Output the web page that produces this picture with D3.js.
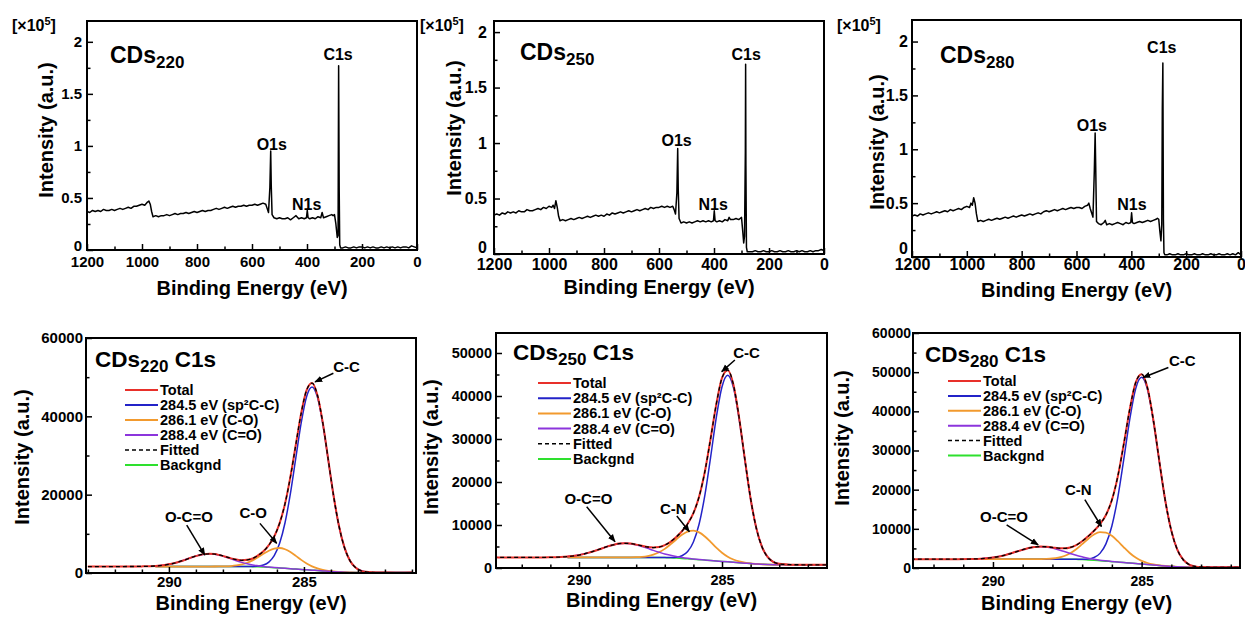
<!DOCTYPE html>
<html>
<head>
<meta charset="utf-8">
<title>XPS spectra of CDs</title>
<script src="https://cdn.jsdelivr.net/npm/d3@7"></script>
<style>
  body { margin: 0; background: #fff; }
  svg text { font-family: "Liberation Sans", Arial, sans-serif; font-weight: bold; fill: #000; }
</style>
</head>
<body>
<div id="container"></div>
<script>
// ---------- survey spectra: [binding energy (eV), intensity (x10^5)] ----------
const survey220 = [
  [1200,0.37],[1190,0.36],[1180,0.38],[1170,0.37],[1160,0.38],[1150,0.37],[1140,0.39],[1130,0.38],[1120,0.38],[1110,0.39],
  [1100,0.38],[1090,0.39],[1080,0.40],[1070,0.39],[1060,0.40],[1050,0.41],[1040,0.40],[1030,0.42],[1020,0.42],[1010,0.43],
  [1000,0.44],[990,0.43],[980,0.46],[975,0.47],[970,0.44],[965,0.37],[960,0.32],[950,0.33],[940,0.32],[930,0.33],
  [920,0.33],[910,0.34],[900,0.33],[890,0.34],[880,0.35],[870,0.34],[860,0.35],[850,0.35],[840,0.36],[830,0.35],
  [820,0.36],[810,0.37],[800,0.36],[790,0.37],[780,0.38],[770,0.37],[760,0.38],[750,0.38],[740,0.39],[730,0.40],
  [720,0.39],[710,0.40],[700,0.41],[690,0.40],[680,0.41],[670,0.42],[660,0.41],[650,0.42],[640,0.42],[630,0.43],
  [620,0.42],[610,0.43],[600,0.43],[590,0.44],[580,0.43],[570,0.44],[560,0.45],[550,0.44],[545,0.40],[540,0.36],
  [535,0.60],[532,0.95],[530,0.62],[527,0.34],[520,0.31],[510,0.30],[500,0.31],[490,0.30],[480,0.30],[470,0.31],
  [460,0.29],[450,0.31],[440,0.33],[430,0.30],[420,0.31],[410,0.30],[402,0.31],[399,0.38],[396,0.31],[390,0.30],
  [380,0.31],[370,0.30],[360,0.32],[350,0.31],[345,0.36],[340,0.31],[330,0.32],[320,0.33],[310,0.34],[305,0.33],
  [300,0.34],[295,0.25],[290,0.12],[287,0.14],[285,1.77],[283,0.60],[281,0.05],[278,0.02],[270,0.02],[260,0.03],
  [250,0.02],[240,0.02],[230,0.03],[220,0.02],[210,0.03],[200,0.03],[190,0.02],[180,0.03],[170,0.02],[160,0.03],
  [150,0.02],[140,0.02],[130,0.03],[120,0.02],[110,0.03],[100,0.02],[90,0.03],[80,0.02],[70,0.03],[60,0.02],
  [50,0.03],[40,0.03],[30,0.02],[20,0.04],[10,0.03],[0,0.02]
];
const survey250 = [
  [1200,0.35],[1190,0.36],[1180,0.35],[1170,0.37],[1160,0.36],[1150,0.38],[1140,0.37],[1130,0.38],[1120,0.37],[1110,0.39],
  [1100,0.38],[1090,0.38],[1080,0.40],[1070,0.39],[1060,0.39],[1050,0.40],[1040,0.41],[1030,0.40],[1020,0.42],[1010,0.41],
  [1000,0.43],[990,0.42],[985,0.44],[980,0.41],[975,0.48],[970,0.42],[965,0.34],[960,0.30],[950,0.31],[940,0.30],
  [930,0.31],[920,0.32],[910,0.31],[900,0.32],[890,0.33],[880,0.32],[870,0.33],[860,0.34],[850,0.33],[840,0.34],
  [830,0.35],[820,0.34],[810,0.35],[800,0.34],[790,0.36],[780,0.35],[770,0.37],[760,0.36],[750,0.37],[740,0.38],
  [730,0.37],[720,0.38],[710,0.39],[700,0.38],[690,0.39],[680,0.40],[670,0.39],[660,0.40],[650,0.41],[640,0.40],
  [630,0.42],[620,0.41],[610,0.42],[600,0.42],[590,0.43],[580,0.42],[570,0.43],[560,0.42],[550,0.43],[545,0.40],
  [540,0.36],[535,0.55],[532,0.95],[530,0.58],[527,0.32],[520,0.28],[510,0.29],[500,0.28],[490,0.29],[480,0.28],
  [470,0.29],[460,0.30],[450,0.29],[440,0.30],[430,0.29],[420,0.30],[410,0.29],[402,0.30],[399,0.39],[396,0.30],
  [390,0.29],[380,0.30],[370,0.29],[360,0.31],[350,0.30],[345,0.33],[340,0.31],[330,0.31],[320,0.32],[310,0.31],
  [305,0.32],[300,0.33],[296,0.22],[292,0.10],[289,0.16],[286,0.92],[285,1.71],[284,0.80],[282,0.06],[279,0.02],
  [270,0.02],[260,0.02],[250,0.03],[240,0.02],[230,0.02],[220,0.03],[210,0.02],[200,0.02],[190,0.03],[180,0.02],
  [170,0.02],[160,0.03],[150,0.02],[140,0.02],[130,0.03],[120,0.02],[110,0.02],[100,0.03],[90,0.02],[80,0.03],
  [70,0.02],[60,0.02],[50,0.03],[40,0.02],[30,0.03],[20,0.03],[10,0.04],[0,0.03]
];
const survey280 = [
  [1200,0.38],[1190,0.39],[1180,0.38],[1170,0.40],[1160,0.39],[1150,0.40],[1140,0.41],[1130,0.40],[1120,0.41],[1110,0.42],
  [1100,0.41],[1090,0.42],[1080,0.43],[1070,0.42],[1060,0.44],[1050,0.43],[1040,0.44],[1030,0.45],[1020,0.44],[1010,0.46],
  [1000,0.47],[990,0.46],[985,0.50],[980,0.48],[975,0.55],[970,0.50],[965,0.40],[960,0.33],[950,0.34],[940,0.33],
  [930,0.34],[920,0.35],[910,0.34],[900,0.35],[890,0.36],[880,0.35],[870,0.36],[860,0.37],[850,0.36],[840,0.37],
  [830,0.38],[820,0.37],[810,0.38],[800,0.39],[790,0.38],[780,0.39],[770,0.40],[760,0.39],[750,0.40],[740,0.41],
  [730,0.40],[720,0.42],[710,0.43],[700,0.42],[690,0.43],[680,0.44],[670,0.43],[660,0.44],[650,0.45],[640,0.44],
  [630,0.45],[620,0.46],[610,0.45],[600,0.46],[590,0.46],[580,0.45],[570,0.47],[560,0.48],[555,0.50],[550,0.45],
  [545,0.41],[540,0.37],[535,0.80],[532,1.15],[530,0.85],[527,0.33],[520,0.31],[510,0.30],[500,0.32],[495,0.34],
  [490,0.30],[480,0.31],[470,0.30],[460,0.31],[450,0.32],[440,0.31],[430,0.30],[420,0.32],[410,0.31],[402,0.32],
  [399,0.41],[396,0.32],[390,0.31],[380,0.32],[370,0.33],[360,0.32],[350,0.33],[340,0.34],[330,0.33],[320,0.34],
  [310,0.35],[305,0.36],[300,0.35],[296,0.24],[292,0.15],[289,0.30],[287,1.38],[285,1.80],[283,0.35],[281,0.04],
  [278,0.02],[270,0.02],[260,0.03],[250,0.02],[240,0.02],[230,0.03],[220,0.02],[210,0.02],[200,0.03],[190,0.02],
  [180,0.02],[170,0.03],[160,0.02],[150,0.02],[140,0.03],[130,0.02],[120,0.02],[110,0.03],[100,0.02],[90,0.02],
  [80,0.03],[70,0.02],[60,0.02],[50,0.03],[40,0.02],[30,0.03],[20,0.02],[10,0.04],[0,0.02]
];
// peak labels: [text, energy, intensity of text baseline]
const surveyLabels220 = [["C1s", 287, 1.83], ["O1s", 528, 0.96], ["N1s", 401, 0.385]];
const surveyLabels250 = [["C1s", 283, 1.75], ["O1s", 536, 0.97], ["N1s", 403, 0.40]];
const surveyLabels280 = [["C1s", 289, 1.89], ["O1s", 544, 1.17], ["N1s", 398, 0.44]];
const surveyXTicks = [1200, 1000, 800, 600, 400, 200, 0];
const surveyXMinor = [1100, 900, 700, 500, 300, 100];
const surveyYTicks = [0, 0.5, 1, 1.5, 2];
const surveyYMinor = [0.25, 0.75, 1.25, 1.75];

// ---------- C1s high resolution: energies, background and fitted peaks ----------
const c1sE220 = [293,292,291,290.5,289.9,289.5,289.1,288.9,288.7,288.5,288.3,288.1,287.9,287.7,287.5,287.3,287.1,286.9,286.7,286.5,
  286.3,286.1,285.9,285.7,285.5,285.3,285.1,284.9,284.7,284.5,284.3,284.1,283.9,283.7,283.5,283.3,283.1,282.9,282.7,282.3,281.9,281.5,281];
const bg220 = [1650,1650,1650,1650,1650,1650,1650,1650,1650,1650,1650,1650,1650,1650,1650,1650,1650,1619,1588,1518,
  1449,1363,1278,1185,1092,999,906,813,720,627,534,441,348,271,193,147,116,105,100,100,100,100,100];
const cc220 = [0,0,0,0,0,0,0,0,0,0,0,0,0,0,1,4,16,56,181,519,
  1338,3075,6318,11653,19235,28408,37487,44273,46800,44273,37487,28408,19235,11653,6318,3075,1338,519,181,16,0,0,0];
const co220 = [0,0,0,0,0,0,0,0,0,2,7,20,52,124,270,536,974,1617,2448,3376,
  4243,4871,5100,4871,4243,3376,2448,1617,974,536,270,124,52,20,7,2,0,0,0,0,0,0,0];
const coo220 = [0,0,25,143,702,1489,2454,2867,3149,3250,3149,2867,2454,1973,1489,1056,702,439,260,143,
  75,36,16,7,3,1,0,0,0,0,0,0,0,0,0,0,0,0,0,0,0,0,0];
const total220 = [1670,1640,1690,1780,2370,3120,4120,4500,4820,4890,4830,4520,4170,3730,3430,3230,3360,3710,4500,5540,
  7130,9320,12740,17690,24600,32750,40870,46680,48520,45410,38320,28950,19660,11920,6540,3200,1470,610,290,120,110,90,100];
const fitted220 = [1650,1650,1675,1793,2352,3139,4104,4517,4799,4902,4806,4537,4156,3747,3410,3246,3342,3731,4477,5556,
  7105,9345,12712,17716,24573,32784,40841,46703,48494,45436,38291,28973,19635,11944,6518,3224,1454,624,281,116,100,100,100];

const c1sE250 = [293,292,291.2,290.8,290.4,290.0,289.6,289.2,289.0,288.8,288.6,288.4,288.2,288.0,287.8,287.6,287.4,287.2,287.0,286.8,
  286.6,286.4,286.2,286.0,285.8,285.6,285.4,285.2,285.0,284.8,284.6,284.4,284.2,284.0,283.8,283.6,283.4,283.2,283.0,282.6,282.2,281.8,281.4,281];
const bg250 = [2450,2450,2450,2450,2450,2450,2450,2450,2450,2450,2450,2450,2450,2450,2450,2450,2450,2450,2416,2382,
  2306,2229,2136,2042,1940,1838,1736,1634,1532,1430,1328,1226,1124,1022,937,852,801,767,755,750,750,750,750,750];
const cc250 = [0,0,0,0,0,0,0,0,0,0,0,0,0,0,0,0,0,3,14,58,
  204,629,1701,4019,8289,15060,23957,33331,40622,43400,40622,33331,23957,15060,8289,4019,1701,629,204,14,0,0,0,0];
const co250 = [0,0,0,0,0,0,0,0,0,0,2,7,22,58,143,321,653,1208,2032,3114,
  4336,5498,6335,6640,6335,5498,4336,3114,2032,1208,653,321,143,58,22,7,2,0,0,0,0,0,0,0];
const coo250 = [0,0,14,61,207,559,1214,2112,2566,2945,3201,3290,3201,2945,2566,2112,1645,1214,849,559,
  349,207,115,61,31,14,7,3,1,0,0,0,0,0,0,0,0,0,0,0,0,0,0,0];
const total250 = [2480,2430,2470,2500,2680,2990,3680,4540,5030,5380,5670,5730,5690,5440,5170,4870,4760,4860,5330,6090,
  7210,8540,10300,12740,16610,22390,30060,38060,44210,46010,42630,34850,25250,16110,9270,4860,2520,1380,970,770,740,760,740,750];
const fitted250 = [2450,2450,2464,2511,2657,3009,3664,4562,5016,5395,5653,5747,5673,5453,5159,4883,4748,4875,5311,6113,
  7195,8563,10287,12762,16595,22410,30036,38082,44187,46038,42603,34878,25224,16140,9248,4878,2504,1396,959,764,750,750,750,750];

const c1sE280 = [293,292,291.2,290.8,290.4,290.0,289.6,289.2,289.0,288.8,288.6,288.4,288.2,288.0,287.8,287.6,287.4,287.2,287.0,286.8,
  286.6,286.4,286.2,286.0,285.8,285.6,285.4,285.2,285.0,284.8,284.6,284.4,284.2,284.0,283.8,283.6,283.4,283.2,283.0,282.6,282.2,281.8,281.4,281];
const bg280 = [2250,2250,2250,2250,2250,2250,2250,2250,2250,2250,2250,2250,2250,2250,2250,2250,2250,2208,2167,2073,
  1980,1865,1751,1626,1501,1376,1252,1127,1002,877,752,628,503,399,295,232,191,176,170,170,170,170,170,170];
const cc280 = [0,0,0,0,0,0,0,0,0,0,0,0,0,0,0,0,3,16,64,224,
  692,1870,4417,9111,16552,26330,36634,44647,47700,44647,36634,26330,16552,9111,4417,1870,692,224,64,3,0,0,0,0];
const co280 = [0,0,0,0,0,0,0,0,0,2,8,24,67,172,397,821,1532,2583,3915,5343,
  6586,7304,7304,6586,5343,3915,2583,1532,821,397,172,67,24,8,2,0,0,0,0,0,0,0,0,0];
const coo280 = [0,0,7,35,141,432,1040,1942,2416,2822,3101,3200,3101,2822,2416,1942,1466,1040,691,432,
  256,141,74,35,16,7,3,1,0,0,0,0,0,0,0,0,0,0,0,0,0,0,0,0];
const total280 = [2270,2240,2260,2300,2380,2700,3270,4210,4650,5090,5340,5490,5400,5260,5050,5030,5240,5860,6820,8090,
  9500,11200,13530,17380,23390,31650,40450,47330,49500,45940,37530,27050,17060,9540,4690,2120,870,410,240,180,160,180,160,170];
const fitted280 = [2250,2250,2257,2285,2391,2682,3290,4192,4666,5074,5359,5474,5418,5244,5063,5013,5251,5847,6837,8072,
  9514,11180,13546,17358,23412,31628,40472,47307,49523,45921,37558,27025,17079,9518,4714,2102,883,400,234,173,170,170,170,170];

// energy where the fitted components start (eV)
const fitStart = 290.5;

// annotations: [text, text energy, text intensity, tail energy, tail intensity, tip energy, tip intensity]
const ann220 = [["C-C", 283.42, 51330, 283.91, 51000, 284.59, 48780],
                ["C-O", 286.88, 13950, 286.63, 12670, 286.01, 7570],
                ["O-C=O", 289.26, 13090, 289.34, 12240, 288.67, 4590]];
const ann250 = [["C-C", 284.14, 48770, 284.55, 48370, 285.01, 45660],
                ["C-N", 286.70, 12560, 286.58, 12090, 286.14, 8450],
                ["O-C=O", 289.67, 14880, 289.73, 14260, 288.74, 6120]];
const ann280 = [["C-C", 283.63, 51460, 284.10, 51200, 284.95, 48630],
                ["C-N", 287.13, 18540, 286.91, 17440, 286.35, 10600],
                ["O-C=O", 289.63, 11710, 289.54, 11030, 288.48, 5900]];

const legendLabels = ["Total", "284.5 eV (sp²C-C)", "286.1 eV (C-O)", "288.4 eV (C=O)", "Fitted", "Backgnd"];
const legendColors = ["#e8302a", "#2323c8", "#f29a2e", "#8c35dc", "#000", "#2ee02e"];
const c1sXTicks = [290, 285];
const c1sXMinor = [293, 292, 291, 289, 288, 287, 286, 284, 283, 282, 281];
const c1sYTicks220 = [0, 20000, 40000, 60000];
const c1sYMinor220 = [10000, 30000, 50000];
const c1sYTicks = [0, 10000, 20000, 30000, 40000, 50000, 60000];
const c1sYMinor = [5000, 15000, 25000, 35000, 45000, 55000];

// ---------- layout ----------
const svg = d3.select("#container").append("svg")
    .attr("width", 1245)
    .attr("height", 617);

svg.append("defs").append("marker")
    .attr("id", "arrow")
    .attr("viewBox", "0 0 10 10")
    .attr("refX", 9).attr("refY", 5)
    .attr("markerUnits", "userSpaceOnUse")
    .attr("markerWidth", 8).attr("markerHeight", 8)
    .attr("orient", "auto")
    .append("path").attr("d", "M0,1 L10,5 L0,9 z").attr("fill", "#000");

const surveyPanels = [
    {data: survey220, labels: surveyLabels220, sub: "220", box: [87, 21, 417, 250], yMax: 2.2, fs: 15, xOff: 16.7, yPad: 5,
        lift: 4, yTitle: [52.7, 130], xTitleY: 295, title: [110, 63], factor: [12, 31]},
    {data: survey250, labels: surveyLabels250, sub: "250", box: [494, 21, 824, 254], yMax: 2.1, fs: 16, xOff: 16, yPad: 7,
        lift: 7, yTitle: [461, 128], xTitleY: 294, title: [520, 60], factor: [420, 31]},
    {data: survey280, labels: surveyLabels280, sub: "280", box: [912, 20, 1241, 257], yMax: 2.2, fs: 16, xOff: 13.3, yPad: 4,
        lift: 9, yTitle: [884, 142], xTitleY: 297, title: [940, 63], factor: [837, 31]}
];

const c1sPanels = [
    {E: c1sE220, bg: bg220, cc: cc220, co: co220, coo: coo220, total: total220, fitted: fitted220, ann: ann220, sub: "220",
        box: [86, 338, 416, 573], xDom: [293.07, 280.85], yMax: 60000, yTicks: c1sYTicks220, yMinor: c1sYMinor220,
        fs: 15, xOff: 14, yPad: 3, lift: 0, yTitle: [29, 457], xTitleY: 610, title: [95, 367], legend: [125, 390, 15]},
    {E: c1sE250, bg: bg250, cc: cc250, co: co250, coo: coo250, total: total250, fitted: fitted250, ann: ann250, sub: "250",
        box: [496, 333, 827, 568], xDom: [292.9, 281.33], yMax: 54650, yTicks: c1sYTicks, yMinor: c1sYMinor,
        fs: 14.5, xOff: 17, yPad: 4, lift: 0, yTitle: [437.5, 447], xTitleY: 607, title: [513, 360], legend: [538, 383, 15.2]},
    {E: c1sE280, bg: bg280, cc: cc280, co: co280, coo: coo280, total: total280, fitted: fitted280, ann: ann280, sub: "280",
        box: [913, 333, 1240, 568], xDom: [292.69, 281.69], yMax: 60000, yTicks: c1sYTicks, yMinor: c1sYMinor,
        fs: 14, xOff: 18, yPad: 2, lift: 0, yTitle: [849, 438], xTitleY: 610, title: [925, 362], legend: [948, 381, 14.9]}
];

// frame, ticks, axis titles shared by every panel
function drawAxes(g, p, x, y, xt, xm, yt, ym, fmt) {
    const [x0, y0, x1, y1] = p.box;
    const clean = sel => {
        sel.select(".domain").remove();
        sel.attr("font-size", null).attr("font-family", null);
        sel.selectAll("line").attr("stroke-width", 1.5);
        sel.selectAll("text").style("font-size", p.fs + "px");
    };
    const xIn = xm.filter(v => v <= d3.max(x.domain()) && v >= d3.min(x.domain()));
    g.append("g").attr("transform", `translate(0,${y1})`)
        .call(d3.axisBottom(x).tickValues(xIn).tickSize(-3.5).tickFormat(""))
        .call(clean);
    g.append("g").attr("transform", `translate(0,${y1})`)
        .call(d3.axisBottom(x).tickValues(xt).tickSizeInner(-6).tickSizeOuter(0)
            .tickPadding(p.xOff - 0.71 * p.fs).tickFormat(d => d))
        .call(clean);
    g.append("g").attr("transform", `translate(${x0},0)`)
        .call(d3.axisLeft(y).tickValues(ym.filter(v => v < y.domain()[1])).tickSize(-3.5).tickFormat(""))
        .call(clean);
    const yAxis = g.append("g").attr("transform", `translate(${x0},0)`)
        .call(d3.axisLeft(y).tickValues(yt.filter(v => v <= y.domain()[1])).tickSizeInner(-6).tickSizeOuter(0)
            .tickPadding(p.yPad).tickFormat(fmt))
        .call(clean);
    // the zero label sits right on the corner; keep it clear of the x labels
    if (p.lift) yAxis.selectAll(".tick text").filter(d => d === 0).attr("y", -p.lift);

    g.append("rect")
        .attr("x", x0).attr("y", y0)
        .attr("width", x1 - x0).attr("height", y1 - y0)
        .attr("fill", "none").attr("stroke", "#000").attr("stroke-width", 2);

    g.append("text")
        .attr("x", (x0 + x1) / 2).attr("y", p.xTitleY)
        .attr("text-anchor", "middle")
        .style("font-size", "20px")
        .text("Binding Energy (eV)");
    g.append("text")
        .attr("transform", `translate(${p.yTitle[0]},${p.yTitle[1]}) rotate(-90)`)
        .attr("text-anchor", "middle")
        .style("font-size", "20px")
        .text("Intensity (a.u.)");
}

function clipFor(p, id) {
    const [x0, y0, x1, y1] = p.box;
    svg.append("clipPath").attr("id", id).append("rect")
        .attr("x", x0).attr("y", y0).attr("width", x1 - x0).attr("height", y1 - y0);
    return `url(#${id})`;
}

// ---------- survey panels ----------
surveyPanels.forEach((p, k) => {
    const [x0, y0, x1, y1] = p.box;
    const x = d3.scaleLinear().domain([1200, 0]).range([x0, x1]);
    const y = d3.scaleLinear().domain([0, p.yMax]).range([y1, y0]);
    const g = svg.append("g");

    g.append("path")
        .datum(p.data)
        .attr("clip-path", clipFor(p, "sclip" + k))
        .attr("d", d3.line().x(d => x(d[0])).y(d => y(d[1])))
        .attr("fill", "none")
        .attr("stroke", "#000")
        .attr("stroke-width", 1.5)
        .attr("stroke-linejoin", "round");

    g.selectAll("text.peak")
        .data(p.labels)
        .join("text")
        .attr("class", "peak")
        .attr("x", d => x(d[1]))
        .attr("y", d => y(d[2]))
        .attr("text-anchor", "middle")
        .style("font-size", "16px")
        .text(d => d[0]);

    const t = g.append("text").attr("x", p.title[0]).attr("y", p.title[1]);
    t.append("tspan").style("font-size", "23px").text("CDs");
    t.append("tspan").style("font-size", "17px").attr("dy", 5).text(p.sub);

    const f = g.append("text").attr("x", p.factor[0]).attr("y", p.factor[1]).style("font-size", "16px");
    f.append("tspan").text("[×10");
    f.append("tspan").attr("dy", -6).style("font-size", "11px").text("5");
    f.append("tspan").attr("dy", 6).text("]");

    drawAxes(g, p, x, y, surveyXTicks, surveyXMinor, surveyYTicks, surveyYMinor, d => d);
});

// ---------- C1s panels ----------
c1sPanels.forEach((p, k) => {
    const [x0, y0, x1, y1] = p.box;
    const x = d3.scaleLinear().domain(p.xDom).range([x0, x1]);
    const y = d3.scaleLinear().domain([0, p.yMax]).range([y1, y0]);
    const g = svg.append("g");
    const plot = g.append("g").attr("clip-path", clipFor(p, "cclip" + k));

    const line = d3.line()
        .defined(d => d[1] != null)
        .x(d => x(d[0]))
        .y(d => y(d[1]))
        .curve(d3.curveMonotoneX);
    // fitted components sit on the background
    const comp = peak => p.E.map((e, i) => [e, e <= fitStart ? p.bg[i] + peak[i] : null]);
    const raw = vals => p.E.map((e, i) => [e, vals[i]]);

    const series = [
        {pts: comp(p.E.map(() => 0)), color: legendColors[5], w: 1.5},
        {pts: comp(p.cc), color: legendColors[1], w: 1.5},
        {pts: comp(p.co), color: legendColors[2], w: 1.8},
        {pts: comp(p.coo), color: legendColors[3], w: 1.5},
        {pts: raw(p.total), color: legendColors[0], w: 2},
        {pts: raw(p.fitted), color: legendColors[4], w: 1.3, dash: "4,3"}
    ];
    plot.selectAll("path.curve")
        .data(series)
        .join("path")
        .attr("class", "curve")
        .attr("d", d => line(d.pts))
        .attr("fill", "none")
        .attr("stroke", d => d.color)
        .attr("stroke-width", d => d.w)
        .attr("stroke-dasharray", d => d.dash || null);

    // arrows and peak names
    g.selectAll("line.arrow")
        .data(p.ann)
        .join("line")
        .attr("class", "arrow")
        .attr("x1", d => x(d[3])).attr("y1", d => y(d[4]))
        .attr("x2", d => x(d[5])).attr("y2", d => y(d[6]))
        .attr("stroke", "#000")
        .attr("stroke-width", 1.5)
        .attr("marker-end", "url(#arrow)");
    g.selectAll("text.ann")
        .data(p.ann)
        .join("text")
        .attr("class", "ann")
        .attr("x", d => x(d[1]))
        .attr("y", d => y(d[2]))
        .attr("text-anchor", "middle")
        .style("font-size", "15px")
        .text(d => d[0]);

    // legend
    const [lx, ly, step] = p.legend;
    const leg = g.selectAll("g.leg")
        .data(legendLabels)
        .join("g")
        .attr("class", "leg")
        .attr("transform", (d, i) => `translate(${lx},${ly + i * step})`);
    leg.append("line")
        .attr("x1", 0).attr("x2", 33)
        .attr("stroke", (d, i) => legendColors[i])
        .attr("stroke-width", (d, i) => i === 4 ? 1.5 : 2)
        .attr("stroke-dasharray", (d, i) => i === 4 ? "4,3" : null);
    leg.append("text")
        .attr("x", 35)
        .attr("y", 5)
        .style("font-size", "14.5px")
        .text(d => d);

    const t = g.append("text").attr("x", p.title[0]).attr("y", p.title[1]);
    t.append("tspan").style("font-size", "22.5px").text("CDs");
    t.append("tspan").style("font-size", "17px").attr("dy", 5).text(p.sub);
    t.append("tspan").style("font-size", "22.5px").attr("dy", -5).text(" C1s");

    drawAxes(g, p, x, y, c1sXTicks, c1sXMinor, p.yTicks, p.yMinor, d3.format("d"));
});
</script>
</body>
</html>
